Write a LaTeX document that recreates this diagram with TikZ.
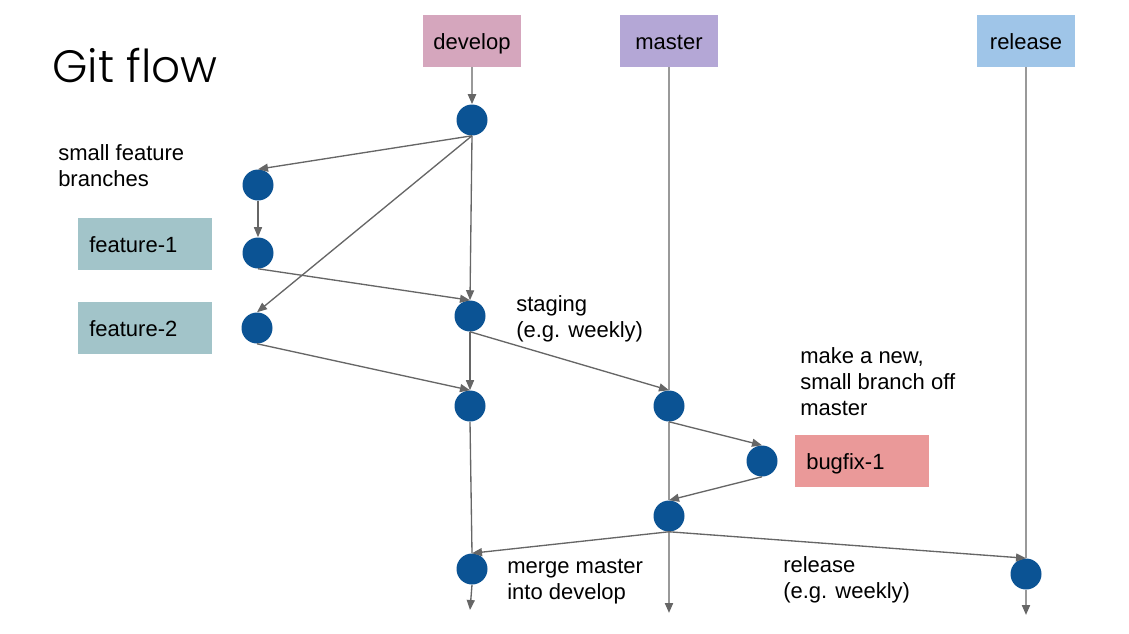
\documentclass[tikz,border=0pt]{standalone}
\usepackage{fontspec}
\setmainfont{Liberation Sans}
\newfontfamily\titlefont{Poppins Light}
\usetikzlibrary{arrows.meta}

\definecolor{developpink}{HTML}{D5A6BD}
\definecolor{masterlilac}{HTML}{B4A7D6}
\definecolor{releaseblue}{HTML}{9FC5E8}
\definecolor{featureteal}{HTML}{A2C4C9}
\definecolor{bugfixred}{HTML}{EA9999}
\definecolor{commitblue}{HTML}{0B5394}
\definecolor{trunkgray}{HTML}{999999}
\definecolor{flowgray}{HTML}{666666}

\tikzset{
  commit/.style={circle,fill=commitblue,minimum size=23.25pt,inner sep=0pt},
  branchbox/.style={fill=#1,minimum width=73.5pt,minimum height=39pt,inner sep=0pt,
    text height=12pt,text depth=0pt,font=\fontsize{16.5pt}{19.5pt}\selectfont},
  taskbox/.style={fill=#1,anchor=west,text width=84pt,inner xsep=8.25pt,inner ysep=0pt,
    minimum height=39pt,text height=12pt,text depth=0pt,align=left,
    font=\fontsize{16.5pt}{19.5pt}\selectfont},
  note/.style={anchor=north west,inner sep=0pt,align=left,
    font=\fontsize{16.5pt}{19.5pt}\selectfont},
  trunk/.style={color=trunkgray,line width=1.5pt},
  flow/.style={color=flowgray,line width=1pt},
  tip/.style={-{Triangle[length=7.5pt,width=6pt,color=flowgray]}},
}

\begin{document}
\begin{tikzpicture}[x=0.75pt,y=-0.75pt]
\useasboundingbox (0,0) rectangle (1129,633);
\node(title) at (52,82)[anchor=base west,inner sep=0pt,font=\titlefont\fontsize{34pt}{38pt}\selectfont] {Git flow};
% branches
\node(develop) at (472,41)[branchbox=developpink] {develop};
\node(master) at (669,41)[branchbox=masterlilac] {master};
\node(release) at (1026,41)[branchbox=releaseblue] {release};
\node(feature1) at (78,244)[taskbox=featureteal] {feature-1};
\node(feature2) at (78,328)[taskbox=featureteal] {feature-2};
\node(bugfix1) at (795,461)[taskbox=bugfixred] {bugfix-1};
% commits
\node(d1) at (472,120)[commit] {};
\node(f1a) at (258,185)[commit] {};
\node(f1b) at (258,253)[commit] {};
\node(f2) at (257,328)[commit] {};
\node(d2) at (470,316)[commit] {};
\node(d3) at (470,406)[commit] {};
\node(m1) at (669,406)[commit] {};
\node(b1) at (762,461)[commit] {};
\node(m2) at (669,516)[commit] {};
\node(d4) at (472,569)[commit] {};
\node(r1) at (1026,574)[commit] {};
\coordinate(dend) at (470,610);
\coordinate(mend) at (669,613);
\coordinate(rend) at (1026,615);
% notes
\node(smallnote) at (58,144)[note] {small feature\\branches};
\node(stagingnote) at (516,295)[note] {staging\\(e.g. weekly)};
\node(bugnote) at (800,347)[note] {make a new,\\small branch off\\master};
\node(mergenote) at (507,559)[note] {merge master\\into develop};
\node(releasenote) at (783,556)[note] {release\\(e.g. weekly)};
% long lived lines
\path [trunk]
  (master.south)  edge  (m1.north)
  (m1.south)      edge  (m2.north)
  (release.south) edge  (r1.north);
\path [trunk,tip]
  (develop.south) edge  (d1.north)
  (m2.south)      edge  (mend)
  (r1.south)      edge  (rend);
\path [flow]
  (d3.south)      edge  (d4.north);
% merges and branch offs
\path [flow,tip]
  (d1.south)      edge  (f1a.north)
  (d1.south)      edge  (f2.north)
  (d1.south)      edge  (d2.north)
  (f1a.south)     edge  (f1b.north)
  (f1b.south)     edge  (d2.north)
  (f2.south)      edge  (d3.north)
  (d2.south)      edge  (d3.north)
  (d2.south)      edge  (m1.north)
  (m1.south)      edge  (b1.north)
  (b1.south)      edge  (m2.north)
  (m2.south)      edge  (d4.north)
  (m2.south)      edge  (r1.north)
  (d4.south)      edge  (dend);
\end{tikzpicture}
\end{document}
